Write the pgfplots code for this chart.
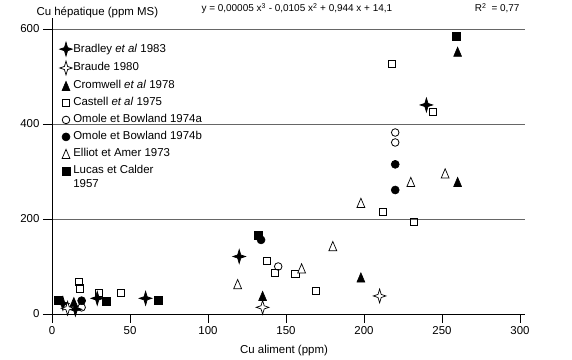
\documentclass[border=0pt]{standalone}
\usepackage{fontspec}
\setmainfont{Liberation Sans}
\usepackage{pgfplots}
\pgfplotsset{compat=1.18}

\pgfdeclareplotmark{fourstar}{%
 \pgfpathmoveto{\pgfqpoint{0pt}{1.1\pgfplotmarksize}}%
 \pgfpathlineto{\pgfqpoint{0.25\pgfplotmarksize}{0.25\pgfplotmarksize}}%
 \pgfpathlineto{\pgfqpoint{\pgfplotmarksize}{0pt}}%
 \pgfpathlineto{\pgfqpoint{0.25\pgfplotmarksize}{-0.25\pgfplotmarksize}}%
 \pgfpathlineto{\pgfqpoint{0pt}{-1.1\pgfplotmarksize}}%
 \pgfpathlineto{\pgfqpoint{-0.25\pgfplotmarksize}{-0.25\pgfplotmarksize}}%
 \pgfpathlineto{\pgfqpoint{-\pgfplotmarksize}{0pt}}%
 \pgfpathlineto{\pgfqpoint{-0.25\pgfplotmarksize}{0.25\pgfplotmarksize}}%
 \pgfpathclose\pgfusepathqfillstroke}
\pgfdeclareplotmark{tri}{%
 \pgfpathmoveto{\pgfqpoint{0pt}{\pgfplotmarksize}}%
 \pgfpathlineto{\pgfqpoint{0.85\pgfplotmarksize}{-\pgfplotmarksize}}%
 \pgfpathlineto{\pgfqpoint{-0.85\pgfplotmarksize}{-\pgfplotmarksize}}%
 \pgfpathclose\pgfusepathqfillstroke}

\begin{document}
\begin{tikzpicture}
\begin{axis}[
  scale only axis, width=472.7bp, height=296bp,
  xmin=0, xmax=303, ymin=0, ymax=623,
  axis x line*=bottom, axis y line*=left,
  axis line style={-, black, line width=0.8bp},
  xtick={0,50,100,150,200,250,300}, ytick={0,200,400,600},
  tick align=outside, major tick length=9bp,
  tick style={black, line width=0.8bp},
  ymajorgrids, grid style={black!60, line width=0.8bp},
  /pgf/number format/assume math mode=true,
  tick label style={font=\fontsize{11.5}{13}\selectfont},
  label style={font=\fontsize{11.5}{13}\selectfont},
  xlabel={Cu aliment (ppm)},
  xlabel style={at={(axis description cs:0.4908,-0.1351)}, anchor=base},
  ylabel={Cu hépatique (ppm MS)},
  ylabel style={rotate=-90, at={(axis description cs:-0.0402,1.0101)}, anchor=base west},
  clip=false,
  legend cell align=left,
  legend style={draw=none, fill=none, at={(axis description cs:0.0159,0.9189)}, anchor=north west,
    inner sep=0pt, row sep=5bp, font=\fontsize{11.5}{13}\selectfont,
    nodes={inner sep=1bp, text height=8bp, text depth=2bp}},
  /tikz/every even column/.append style={column sep=1.5bp},
  legend image code/.code={\draw[mark repeat=2,mark phase=2,#1] plot coordinates {(0bp,0bp) (6bp,0bp) (12bp,0bp)};},
]
\addplot[only marks, mark=fourstar, mark size=6.3bp, mark options={fill=black, draw=black, line width=0.7bp}]
 coordinates {(7,22) (15,10) (29,33) (60,33) (120,121) (240,440)};
\addlegendentry{Bradley \textit{et al} 1983}
\addplot[only marks, mark=fourstar, mark size=6.3bp, mark options={fill=white, draw=black, line width=0.7bp}]
 coordinates {(10,12) (135,14) (210,38)};
\addlegendentry{Braude 1980}
\addplot[only marks, mark=tri, mark size=4.6bp, mark options={fill=black, draw=black, line width=0.6bp}]
 coordinates {(14,25) (135,38) (198,77) (260,278) (260,552)};
\addlegendentry{Cromwell \textit{et al} 1978}
\addplot[only marks, mark=square, mark size=3.6bp, mark options={fill=white, draw=black, line width=0.8bp}]
 coordinates {(17,67) (18,54) (30,45) (44,45) (138,112) (143,87) (156,85) (169,49) (212,215) (232,194) (244,426) (218,526)};
\addlegendentry{Castell \textit{et al} 1975}
\addplot[only marks, mark=o, mark size=3.8bp, mark options={fill=white, draw=black, line width=0.8bp}]
 coordinates {(19,14) (145,100) (220,382) (220,361)};
\addlegendentry{Omole et Bowland 1974a}
\addplot[only marks, mark=*, mark size=4bp, mark options={fill=black, draw=black, line width=0.6bp}]
 coordinates {(19,28) (134,156) (220,315) (220,261)};
\addlegendentry{Omole et Bowland 1974b}
\addplot[only marks, mark=tri, mark size=4.6bp, mark options={fill=white, draw=black, line width=0.7bp}]
 coordinates {(119,63) (160,96) (180,143) (198,234) (230,278) (252,296)};
\addlegendentry{Elliot et Amer 1973}
\addplot[only marks, mark=square*, mark size=3.9bp, mark options={fill=black, draw=black, line width=0.6bp}]
 coordinates {(4,29) (35,26) (68,29) (132,165) (259,584)};
\addlegendentry{\parbox[t]{3cm}{Lucas et Calder\\[1bp]1957}}
\end{axis}
\node[anchor=base west, font=\fontsize{10}{12}\selectfont] at (146bp,302bp)
  {y = 0,00005 x\textsuperscript{3} - 0,0105 x\textsuperscript{2} + 0,944 x + 14,1};
\node[anchor=base east, font=\fontsize{10}{12}\selectfont] at (471bp,302bp)
  {R\textsuperscript{2}\enspace= 0,77};
\pgfresetboundingbox
\path (-52bp,-46bp) rectangle (520bp,314bp);
\end{tikzpicture}
\end{document}
